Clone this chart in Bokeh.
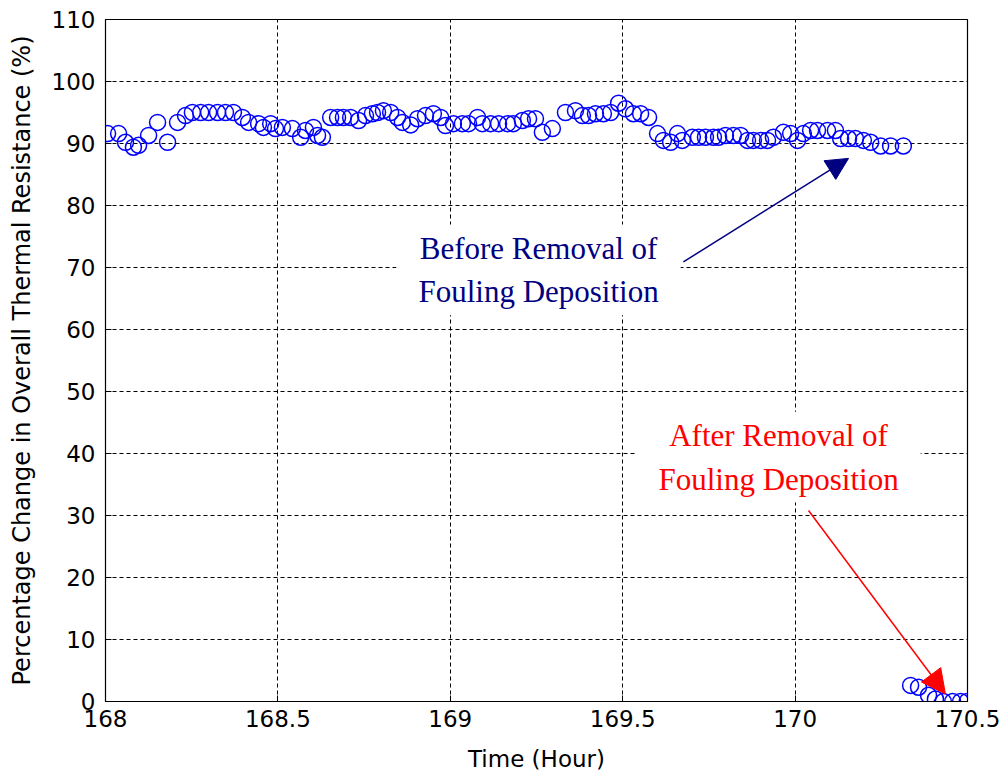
from bokeh.plotting import figure
from bokeh.models import Range1d, FixedTicker, Label, Arrow, NormalHead
from bokeh.embed import file_html
from bokeh.resources import INLINE

# ---- data ----
time_before = [
    168.006, 168.038, 168.058, 168.081, 168.096, 168.125, 168.151, 168.180, 168.209, 168.232,
    168.252, 168.276, 168.299, 168.325, 168.348, 168.371, 168.397, 168.415, 168.444, 168.458,
    168.479, 168.493, 168.513, 168.542, 168.566, 168.580, 168.603, 168.615, 168.629, 168.653,
    168.673, 168.690, 168.711, 168.734, 168.754, 168.774, 168.789, 168.806, 168.827, 168.847,
    168.861, 168.885, 168.905, 168.928, 168.951, 168.972, 168.986, 169.009, 169.035, 169.053,
    169.079, 169.093, 169.117, 169.140, 169.166, 169.183, 169.209, 169.227, 169.247, 169.267,
    169.296, 169.334, 169.363, 169.383, 169.401, 169.421, 169.444, 169.465, 169.488, 169.508,
    169.531, 169.552, 169.575, 169.601, 169.618, 169.639, 169.659, 169.673, 169.702, 169.720,
    169.740, 169.763, 169.778, 169.798, 169.821, 169.842, 169.862, 169.879, 169.900, 169.920,
    169.937, 169.966, 169.987, 170.007, 170.024, 170.045, 170.065, 170.094, 170.117, 170.132,
    170.155, 170.175, 170.198, 170.219, 170.248, 170.277, 170.314,
]
change_before = [
    91.6, 91.6, 90.2, 89.4, 89.7, 91.3, 93.4, 90.2, 93.4, 94.5,
    95.0, 95.0, 95.0, 95.0, 95.0, 95.0, 94.2, 93.4, 93.2, 92.6,
    93.2, 92.4, 92.6, 92.4, 91.0, 92.1, 92.6, 91.3, 91.0, 94.2,
    94.2, 94.2, 94.2, 93.7, 94.5, 94.8, 95.0, 95.3, 95.0, 94.2,
    93.4, 93.0, 94.0, 94.5, 94.8, 94.2, 92.9, 93.2, 93.2, 93.2,
    94.2, 93.2, 93.2, 93.2, 93.2, 93.2, 93.7, 94.0, 94.0, 91.8,
    92.4, 95.0, 95.3, 94.5, 94.5, 94.8, 94.8, 95.0, 96.5, 95.6,
    94.8, 94.8, 94.2, 91.6, 90.5, 90.2, 91.6, 90.5, 91.0, 91.0,
    91.0, 91.0, 91.0, 91.3, 91.3, 91.3, 90.5, 90.5, 90.5, 90.5,
    91.0, 91.8, 91.6, 90.5, 91.6, 92.1, 92.1, 92.1, 92.1, 90.8,
    90.8, 90.8, 90.5, 90.2, 89.6, 89.6, 89.6,
]
time_after = [170.335, 170.358, 170.387, 170.407, 170.430, 170.457, 170.480, 170.499]
change_after = [2.6, 2.3, 1.0, 0.4, 0.0, 0.0, 0.0, 0.0]

x_ticks = [168, 168.5, 169, 169.5, 170, 170.5]
x_tick_labels = ["168", "168.5", "169", "169.5", "170", "170.5"]
y_ticks = [0, 10, 20, 30, 40, 50, 60, 70, 80, 90, 100, 110]
y_tick_labels = [str(v) for v in y_ticks]

x_label = "Time (Hour)"
y_label = "Percentage Change in Overall Thermal Resistance (%)"
note_before = "Before Removal of\nFouling Deposition"
note_after = "After Removal of\nFouling Deposition"

# ---- figure ----
p = figure(width=1006, height=780, output_backend="svg", toolbar_location=None,
           x_range=Range1d(168, 170.5), y_range=Range1d(0, 110),
           min_border_left=105, min_border_right=39, min_border_top=19, min_border_bottom=79,
           background_fill_color="white", border_fill_color="white")

p.outline_line_color = "black"
p.outline_line_width = 1.2

for ax in (p.xaxis[0], p.yaxis[0]):
    ax.axis_line_color = "black"
    ax.major_tick_line_color = "black"
    ax.major_tick_in = 6
    ax.major_tick_out = 0
    ax.minor_tick_line_color = None
    ax.major_label_text_font = "DejaVu Sans"
    ax.major_label_text_font_size = "23px"
    ax.major_label_text_color = "black"
    ax.axis_label_text_font = "DejaVu Sans"
    ax.axis_label_text_font_style = "normal"
    ax.axis_label_text_color = "black"

p.xaxis[0].ticker = FixedTicker(ticks=x_ticks)
p.xaxis[0].major_label_overrides = {t: l for t, l in zip(x_ticks, x_tick_labels)}
p.xaxis[0].major_label_standoff = 8
p.xaxis[0].axis_label = x_label
p.xaxis[0].axis_label_text_font_size = "23px"
p.xaxis[0].axis_label_standoff = 16

p.yaxis[0].ticker = FixedTicker(ticks=y_ticks)
p.yaxis[0].major_label_overrides = {t: l for t, l in zip(y_ticks, y_tick_labels)}
p.yaxis[0].major_label_standoff = 10
p.yaxis[0].axis_label = y_label
p.yaxis[0].axis_label_text_font_size = "24px"
p.yaxis[0].axis_label_standoff = 13

for g, t in ((p.xgrid[0], x_ticks), (p.ygrid[0], y_ticks)):
    g.ticker = FixedTicker(ticks=t)
    g.grid_line_color = "black"
    g.grid_line_dash = "4 3"
    g.grid_line_width = 1

p.scatter(time_before, change_before, marker="circle", size=16,
          fill_color=None, line_color="#0000FF", line_width=1.5)
p.scatter(time_after, change_after, marker="circle", size=16,
          fill_color=None, line_color="#0000FF", line_width=1.5)

# ---- annotations ----
navy = "#000080"
red = "#FF0000"
p.add_layout(Arrow(end=NormalHead(size=22, fill_color=navy, line_color=navy),
                   x_start=169.676, y_start=70.9, x_end=170.155, y_end=87.6,
                   line_color=navy, line_width=1.5))
p.add_layout(Arrow(end=NormalHead(size=24, fill_color=red, line_color=red),
                   x_start=170.039, y_start=30.8, x_end=170.436, y_end=1.2,
                   line_color=red, line_width=1.5))

p.add_layout(Label(x=169.256, y=69.6, text=note_before, text_align="center",
                   text_baseline="middle", text_font="Liberation Serif",
                   text_font_size="31px", text_color=navy, text_line_height=1.25,
                   background_fill_color="white", padding=(22, 6)))
p.add_layout(Label(x=169.952, y=39.4, text=note_after, text_align="center",
                   text_baseline="middle", text_font="Liberation Serif",
                   text_font_size="31px", text_color=red, text_line_height=1.25,
                   background_fill_color="white", padding=(22, 6)))

open("out.html", "w").write(file_html(p, INLINE))
